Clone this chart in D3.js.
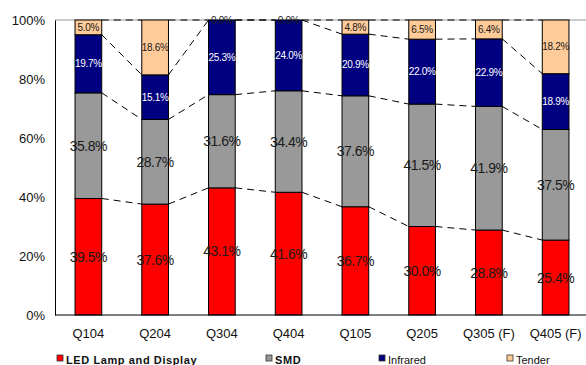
<!DOCTYPE html>
<html><head><meta charset="utf-8">
<script src="https://cdn.jsdelivr.net/npm/d3@7"></script>
<style>body{margin:0;background:#fff}svg{display:block}text{font-family:"Liberation Sans",Arial,sans-serif}</style>
</head><body>
<script>
const categories = ["Q104","Q204","Q304","Q404","Q105","Q205","Q305 (F)","Q405 (F)"];
const ledLamp  = [39.5,37.6,43.1,41.6,36.7,30.0,28.8,25.4];
const smd      = [35.8,28.7,31.6,34.4,37.6,41.5,41.9,37.5];
const infrared = [19.7,15.1,25.3,24.0,20.9,22.0,22.9,18.9];
const tender   = [5.0,18.6,0.0,0.0,4.8,6.5,6.4,18.2];
const seriesNames = ["LED Lamp and Display","SMD","Infrared","Tender"];
const yTicks = [0,20,40,60,80,100];

const W=586,H=365;
const svg=d3.select("body").append("svg").attr("width",W).attr("height",H);
const x=d3.scaleBand().domain(categories).range([55,589]).paddingInner(0.6).paddingOuter(0.3);
const y=d3.scaleLinear().domain([0,100]).range([315,20]);

const series=[
 {name:seriesNames[0],vals:ledLamp,fill:"#ff0000",txt:"#1a1a1a",fs:14,bold:true},
 {name:seriesNames[1],vals:smd,fill:"#999999",txt:"#1a1a1a",fs:14,bold:true},
 {name:seriesNames[2],vals:infrared,fill:"#000080",txt:"#ffffff",fs:10,bold:false},
 {name:seriesNames[3],vals:tender,fill:"#ffcc99",txt:"#1a1a1a",fs:10,bold:false}
];
// cumulative
categories.forEach((c,i)=>{let s=0;series.forEach(se=>{se.y0=se.y0||[];se.y1=se.y1||[];se.y0[i]=s;s+=se.vals[i];se.y1[i]=s;});});

// top gray border line
svg.append("line").attr("x1",55).attr("x2",W).attr("y1",y(100)).attr("y2",y(100)).attr("stroke","#999").attr("stroke-width",1);

// bars
series.forEach(se=>{
  svg.append("g").selectAll("rect").data(categories).join("rect")
   .attr("x",d=>x(d)).attr("width",x.bandwidth())
   .attr("y",(d,i)=>y(se.y1[i])).attr("height",(d,i)=>y(se.y0[i])-y(se.y1[i]))
   .attr("fill",se.fill).attr("stroke","#000").attr("stroke-width",1);
});

// series lines
series.forEach(se=>{
  for(let i=0;i<categories.length-1;i++){
    svg.append("line").attr("x1",x(categories[i])+x.bandwidth()).attr("y1",y(se.y1[i]))
     .attr("x2",x(categories[i+1])).attr("y2",y(se.y1[i+1]))
     .attr("stroke","#000").attr("stroke-width",1).attr("stroke-dasharray","7,5");
  }
});

// labels
series.forEach(se=>{
  svg.append("g").selectAll("text").data(categories).join("text")
   .attr("x",d=>x(d)+x.bandwidth()/2).attr("y",(d,i)=>y((se.y0[i]+se.y1[i])/2))
   .attr("text-anchor","middle").attr("dominant-baseline","central")
   .attr("font-size",se.fs).attr("fill",se.txt).attr("letter-spacing",se.fs>12?"-0.5px":"-0.3px")
   .text((d,i)=>se.vals[i].toFixed(1)+"%");
});

// axes
const yAxis=d3.axisLeft(y).tickValues(yTicks).tickSize(0).tickPadding(10).tickFormat(d=>d+"%");
const gy=svg.append("g").attr("transform","translate(55,0)").call(yAxis);
gy.select(".domain").attr("stroke","#000");
gy.selectAll("text").attr("font-size",13).attr("fill","#111").attr("font-family","Liberation Sans, Arial, sans-serif");
const xAxis=d3.axisBottom(x).tickSize(0).tickPadding(14);
const gx=svg.append("g").attr("transform","translate(0,315)").call(xAxis);
gx.select(".domain").remove();
svg.append("line").attr("x1",55).attr("x2",W).attr("y1",315).attr("y2",315).attr("stroke","#000");
gx.selectAll("text").attr("font-size",13).attr("fill","#111").attr("font-family","Liberation Sans, Arial, sans-serif");

// legend
const legX=[57,266,379,507];
const lg=svg.append("g");
series.forEach((se,i)=>{
  lg.append("rect").attr("x",legX[i]).attr("y",355).attr("width",6).attr("height",6).attr("fill",se.fill).attr("stroke","#333").attr("stroke-width",0.8);
  lg.append("text").attr("x",legX[i]+9).attr("y",364).attr("font-size",11).attr("font-weight",i<2?"bold":"normal")
   .attr("letter-spacing",i<2?"0.6px":"0").attr("fill","#111").text(se.name);
});
</script>
</body></html>
